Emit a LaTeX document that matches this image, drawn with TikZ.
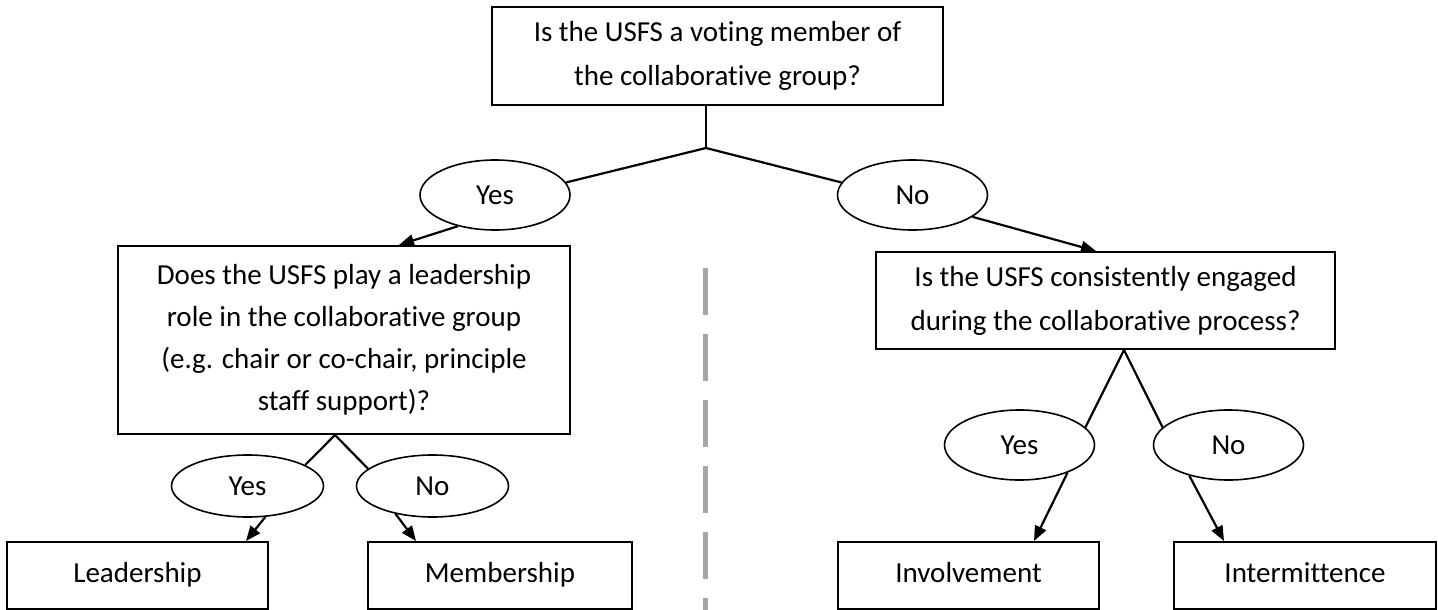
\documentclass[tikz,border=0pt]{standalone}
\usepackage{fontspec}
\setmainfont{Carlito}[Ligatures=NoCommon]
\usetikzlibrary{shapes.geometric,arrows.meta}
\definecolor{dashgray}{HTML}{A6A6A6}
\begin{document}
\begin{tikzpicture}[x=1pt,y=-1pt,
        box/.style={draw, line width=2pt, inner sep=0pt, align=center, font=\fontsize{29}{44}\selectfont},
        outcome/.style={box, minimum height=67pt, text height=20pt, text depth=7pt},
        answer/.style={draw, ellipse, line width=1.6pt, inner sep=0pt, minimum width=150pt, minimum height=70pt, font=\fontsize{29}{32}\selectfont},
        link/.style={line width=2.2pt},
        >={Triangle[length=15pt,width=12pt]}]
                \useasboundingbox (0,0) rectangle (1438,610);

                \node[box, minimum width=451pt, minimum height=98pt] (top) at (717.5, 56) {Is the USFS a voting member of\\the collaborative group?};
                \coordinate (split) at (706, 148);

                \node[answer] (yes1) at (495, 195) {Yes};
                \node[answer] (no1) at (912.5, 195) {No};

                \node[box, minimum width=452pt, minimum height=188pt, font=\fontsize{29}{42}\selectfont] (lead q) at (344, 340) {Does the USFS play a leadership\\role in the collaborative group\\(e.g. chair or co-chair, principle\\staff support)?};
                \node[box, minimum width=459pt, minimum height=97pt] (engage q) at (1105.5, 300.5) {Is the USFS consistently engaged\\during the collaborative process?};

                \node[answer, minimum width=152pt, minimum height=62pt] (yes2) at (247.5, 486) {Yes};
                \node[answer, minimum width=152pt, minimum height=62pt] (no2) at (432.5, 486) {No};
                \node[answer] (yes3) at (1019.5, 445) {Yes};
                \node[answer] (no3) at (1228.5, 445) {No};

                \node[outcome, minimum width=261pt] (leadership) at (137.5, 575.5) {Leadership};
                \node[outcome, minimum width=264pt] (membership) at (500, 575.5) {Membership};
                \node[outcome, minimum width=261pt] (involvement) at (968.5, 575.5) {Involvement};
                \node[outcome, minimum width=262pt] (intermittence) at (1305, 575.5) {Intermittence};

                \draw[link] (top.south -| split) -- (split);
                \draw[link] (split) -- (yes1.10);
                \draw[link] (split) -- (no1.170);
                \draw[link,->] (yes1.220) -- ([xshift=282pt]lead q.north west);
                \draw[link,->] (no1.340) -- ([xshift=221pt]engage q.north west);

                \draw[link] ([xshift=-9pt]lead q.south) -- (yes2.20);
                \draw[link] ([xshift=-9pt]lead q.south) -- (no2.165);
                \draw[link,->] (yes2.300) -- ([xshift=-23pt]leadership.north east);
                \draw[link,->] (no2.217) -- ([xshift=49pt]membership.north west);

                \draw[link] ([xshift=18.5pt]engage q.south) -- (yes3.15);
                \draw[link] ([xshift=18.5pt]engage q.south) -- (no3.165);
                \draw[link,->] (yes3.330) -- ([xshift=197pt]involvement.north west);
                \draw[link,->] (no3.218) -- ([xshift=51pt]intermittence.north west);

                \draw[dashgray, line width=5pt, dash pattern=on 47pt off 19pt] (705, 268) -- (705, 610);
            \end{tikzpicture}
\end{document}
